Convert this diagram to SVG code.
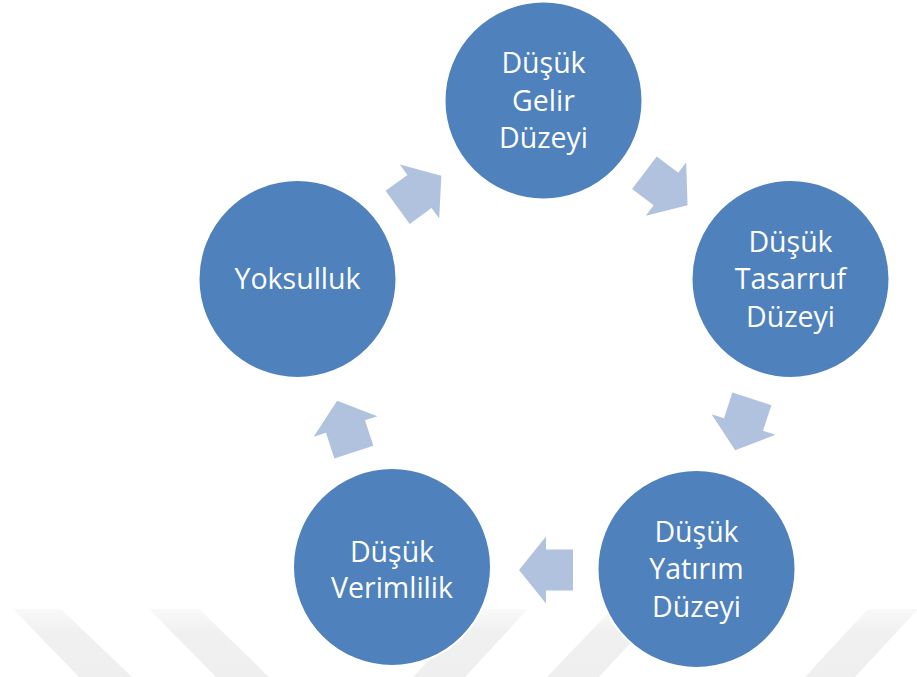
<svg xmlns="http://www.w3.org/2000/svg" width="917" height="677" viewBox="0 0 917 677">
  <defs>
    <style>
      .node circle { fill: #4F81BD; stroke: #FFFFFF; stroke-width: 2; }
      .node text { font-family: "Open Sans", "Noto Sans", "DejaVu Sans", sans-serif; font-size: 28.5px; fill: #FFFFFF; text-anchor: middle; }
      .arrow { fill: #B0C2DE; }
    </style>
    <linearGradient id="wmfade" x1="0" y1="0" x2="0" y2="1">
      <stop offset="0" stop-color="#F9F9F9"/>
      <stop offset="0.35" stop-color="#F0F0F0"/>
      <stop offset="1" stop-color="#EFEFEF"/>
    </linearGradient>
    <polygon id="blockArrow" points="-27,-20.5 0,-20.5 0,-33.5 27,0 0,33.5 0,20.5 -27,20.5"/>
  </defs>
  <rect width="917" height="677" fill="#FFFFFF"/>
  <g id="watermark" fill="url(#wmfade)">
    <polygon points="13,609 61,609 132,677 79,677"/>
    <polygon points="149,609 199,609 269,677 216,677"/>
    <polygon points="478,609 528,609 465,677 413,677"/>
    <polygon points="612,609 662,609 599,677 547,677"/>
    <polygon points="868,609 918,609 855,677 805,677"/>
  </g>
  <g id="connectors" class="arrow">
    <use href="#blockArrow" transform="translate(419.5,191.5) rotate(-36)"/>
    <use href="#blockArrow" transform="translate(666,189) rotate(37)"/>
    <use href="#blockArrow" transform="translate(743.5,424.5) rotate(108)"/>
    <use href="#blockArrow" transform="translate(546,570) rotate(180)"/>
    <use href="#blockArrow" transform="translate(345.5,426.5) rotate(252)"/>
  </g>
  <g id="node-gelir" class="node">
    <circle cx="543.5" cy="100.5" r="99"/>
    <text x="543.5" y="73">Düşük</text>
    <text x="543.5" y="111">Gelir</text>
    <text x="543.5" y="148">Düzeyi</text>
  </g>
  <g id="node-tasarruf" class="node">
    <circle cx="790.5" cy="279" r="99"/>
    <text x="790.5" y="252">Düşük</text>
    <text x="790.5" y="289">Tasarruf</text>
    <text x="790.5" y="327">Düzeyi</text>
  </g>
  <g id="node-yatirim" class="node">
    <circle cx="696.5" cy="569" r="99"/>
    <text x="696.5" y="542">Düşük</text>
    <text x="696.5" y="579">Yatırım</text>
    <text x="696.5" y="617">Düzeyi</text>
  </g>
  <g id="node-verimlilik" class="node">
    <circle cx="392" cy="567" r="99"/>
    <text x="392" y="562">Düşük</text>
    <text x="392" y="598">Verimlilik</text>
  </g>
  <g id="node-yoksulluk" class="node">
    <circle cx="297.5" cy="279" r="99"/>
    <text x="297.5" y="289">Yoksulluk</text>
  </g>
</svg>
